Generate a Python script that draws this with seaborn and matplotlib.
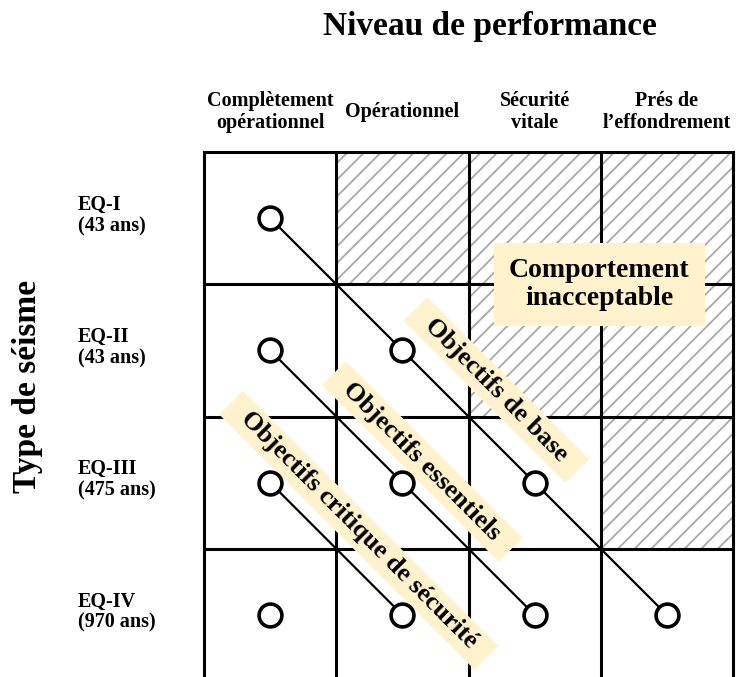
import pandas as pd
import matplotlib.pyplot as plt
import matplotlib.patches as mpatches
import seaborn as sns

# niveaux de performance (colonnes) et types de seisme (lignes)
niveaux = ["Complètement\nopérationnel", "Opérationnel", "Sécurité\nvitale", "Prés de\nl’effondrement"]
seismes = ["EQ-I\n(43 ans)", "EQ-II\n(43 ans)", "EQ-III\n(475 ans)", "EQ-IV\n(970 ans)"]

# cellules hachurees (ligne, colonne) = comportement inacceptable
hachures = [(0, 1), (0, 2), (0, 3), (1, 2), (1, 3), (2, 3)]

# objectifs : suite de (ligne, colonne)
obj_base = [(0, 0), (1, 1), (2, 2), (3, 3)]
obj_essentiels = [(1, 0), (2, 1), (3, 2)]
obj_critique = [(2, 0), (3, 1)]
obj_seul = [(3, 0)]

rows = []
for nom, pts in [("base", obj_base), ("essentiels", obj_essentiels),
                 ("critique", obj_critique), ("seul", obj_seul)]:
    for r, c in pts:
        rows.append({"groupe": nom, "x": c + 0.5, "y": r + 0.5})
df = pd.DataFrame(rows)

sns.set_style("white")
plt.rcParams['font.family'] = ['Liberation Serif', 'DejaVu Serif']
plt.rcParams['text.color'] = 'black'
plt.rcParams['hatch.color'] = '#a8a8a8'
plt.rcParams['hatch.linewidth'] = 1.3

fig = plt.figure(figsize=(7.37, 6.77), dpi=100)
cell = 132.25
ax = fig.add_axes([204 / 737, (677 - 152 - 4 * cell) / 677, 4 * cell / 737, 4 * cell / 677])
ax.set_xlim(0, 4)
ax.set_ylim(4, 0)

for r, c in hachures:
    ax.add_patch(mpatches.Rectangle((c, r), 1, 1, facecolor="none", edgecolor="#a8a8a8",
                                    hatch="//", linewidth=0, zorder=1))

for k in range(1, 4):
    ax.axvline(k, color="black", lw=2.2, zorder=2)
    ax.axhline(k, color="black", lw=2.2, zorder=2)
for s in ax.spines.values():
    s.set_color("black")
    s.set_linewidth(2.2)
    s.set_zorder(2)

sns.lineplot(data=df, x="x", y="y", units="groupe", estimator=None, sort=False,
             color="black", lw=1.6, ax=ax, zorder=3, legend=False)
sns.scatterplot(data=df, x="x", y="y", ax=ax, s=270, facecolor="white",
                edgecolor="black", linewidth=2.6, zorder=6, legend=False)

ax.set_xticks([])
ax.set_yticks([])
ax.set_xlabel("")
ax.set_ylabel("")

for i, t in enumerate(niveaux):
    ax.text(i + 0.5, -0.30, t, ha="center", va="center", fontsize=14.5,
            fontweight="bold", linespacing=1.15, clip_on=False)
for i, t in enumerate(seismes):
    ax.text(-0.953, i + 0.48, t, ha="left", va="center", fontsize=14.5,
            fontweight="bold", linespacing=1.1, clip_on=False)

boite = dict(boxstyle="square,pad=0.2", facecolor="#fff2cc", edgecolor="none")
ax.text(2.99, 1.0, "Comportement\ninacceptable", ha="center", va="center",
        fontsize=20, fontweight="bold", linespacing=1.15, zorder=5,
        bbox=dict(boxstyle="square,pad=0.55", facecolor="#fff2cc", edgecolor="none"))
ax.text(2.21, 1.80, "  Objectifs de base  ", ha="center", va="center", rotation=-45,
        rotation_mode="anchor", fontsize=19, fontweight="bold", zorder=5, bbox=boite)
ax.text(1.65, 2.34, "  Objectifs essentiels  ", ha="center", va="center", rotation=-45,
        rotation_mode="anchor", fontsize=19, fontweight="bold", zorder=5, bbox=boite)
ax.text(1.17, 2.86, "  Objectifs critique de sécurité  ", ha="center", va="center", rotation=-45,
        rotation_mode="anchor", fontsize=19, fontweight="bold", zorder=5, bbox=boite)

fig.text(490 / 737, 1 - 26 / 677, "Niveau de performance", ha="center", va="center",
         fontsize=24, fontweight="bold")
fig.text(28 / 737, 1 - 386 / 677, "Type de séisme", ha="center", va="center",
         rotation=90, fontsize=24, fontweight="bold")

fig.savefig("out.png", dpi=100)
